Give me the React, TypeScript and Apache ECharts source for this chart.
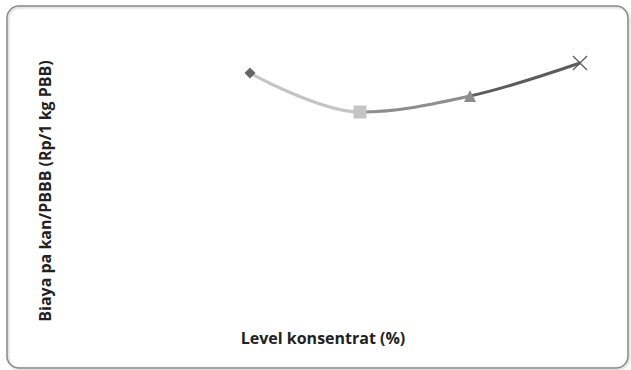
import React, { useEffect, useRef } from "react";
import * as echarts from "echarts";

const levels = [0, 10, 20, 30];
const biaya = [12700, 8800, 10400, 13700];
const symbols = ["diamond", "rect", "triangle", "path://M0,0.6 L0.6,0 L5,4.4 L9.4,0 L10,0.6 L5.6,5 L10,9.4 L9.4,10 L5,5.6 L0.6,10 L0,9.4 L4.4,5 Z"];
const symbolSizes = [11, 13, 12, 15];
const pointColors = ["#666666", "#c4c4c4", "#8e8e8e", "#5c5c5c"];
const xTitle = "Level konsentrat (%)";
const yTitle = "Biaya pa kan/PBBB (Rp/1 kg PBB)";

export default function App() {
  const ref = useRef<HTMLDivElement>(null);
  useEffect(() => {
    if (!ref.current) return;
    const chart = echarts.init(ref.current, undefined, { renderer: "svg" });
    const font = "'Open Sans', 'Liberation Sans', sans-serif";
    chart.setOption({
      animation: false,
      backgroundColor: "#ffffff",
      grid: { left: 250, right: 51, top: 40, bottom: 170 },
      xAxis: { type: "value", min: levels[0], max: levels[levels.length - 1], show: false },
      yAxis: { type: "value", min: 0, max: 16000, show: false },
      visualMap: {
        show: false,
        type: "piecewise",
        dimension: 0,
        seriesIndex: 0,
        pieces: [
          { lte: levels[0], color: pointColors[0] },
          { gt: levels[0], lte: levels[1], color: pointColors[1] },
          { gt: levels[1], lte: levels[2], color: pointColors[2] },
          { gt: levels[2], color: pointColors[3] },
        ],
      },
      series: [
        {
          type: "line",
          smooth: 0.35,
          lineStyle: { width: 3 },
          data: levels.map((x, i) => ({
            value: [x, biaya[i]],
            symbol: symbols[i],
            symbolSize: symbolSizes[i],
          })),
        },
      ],
      graphic: [
        {
          type: "rect",
          shape: { x: 7, y: 6, width: 621, height: 362, r: 12 },
          style: { fill: "none", stroke: "#8a8a8a", lineWidth: 1.5, shadowBlur: 2, shadowColor: "rgba(0,0,0,0.25)", shadowOffsetX: 1, shadowOffsetY: 1 },
          silent: true,
        },
        {
          type: "text",
          x: 323,
          y: 338,
          style: { text: xTitle, font: `bold 16px ${font}`, fill: "#222", align: "center", verticalAlign: "middle" },
        },
        {
          type: "text",
          x: 45,
          y: 191,
          rotation: Math.PI / 2,
          style: { text: yTitle, font: `bold 16px ${font}`, fill: "#222", align: "center", verticalAlign: "middle" },
        },
      ],
    });
    return () => chart.dispose();
  }, []);
  return <div ref={ref} style={{ position: "fixed", left: 0, top: 0, width: 631, height: 370 }} />;
}
